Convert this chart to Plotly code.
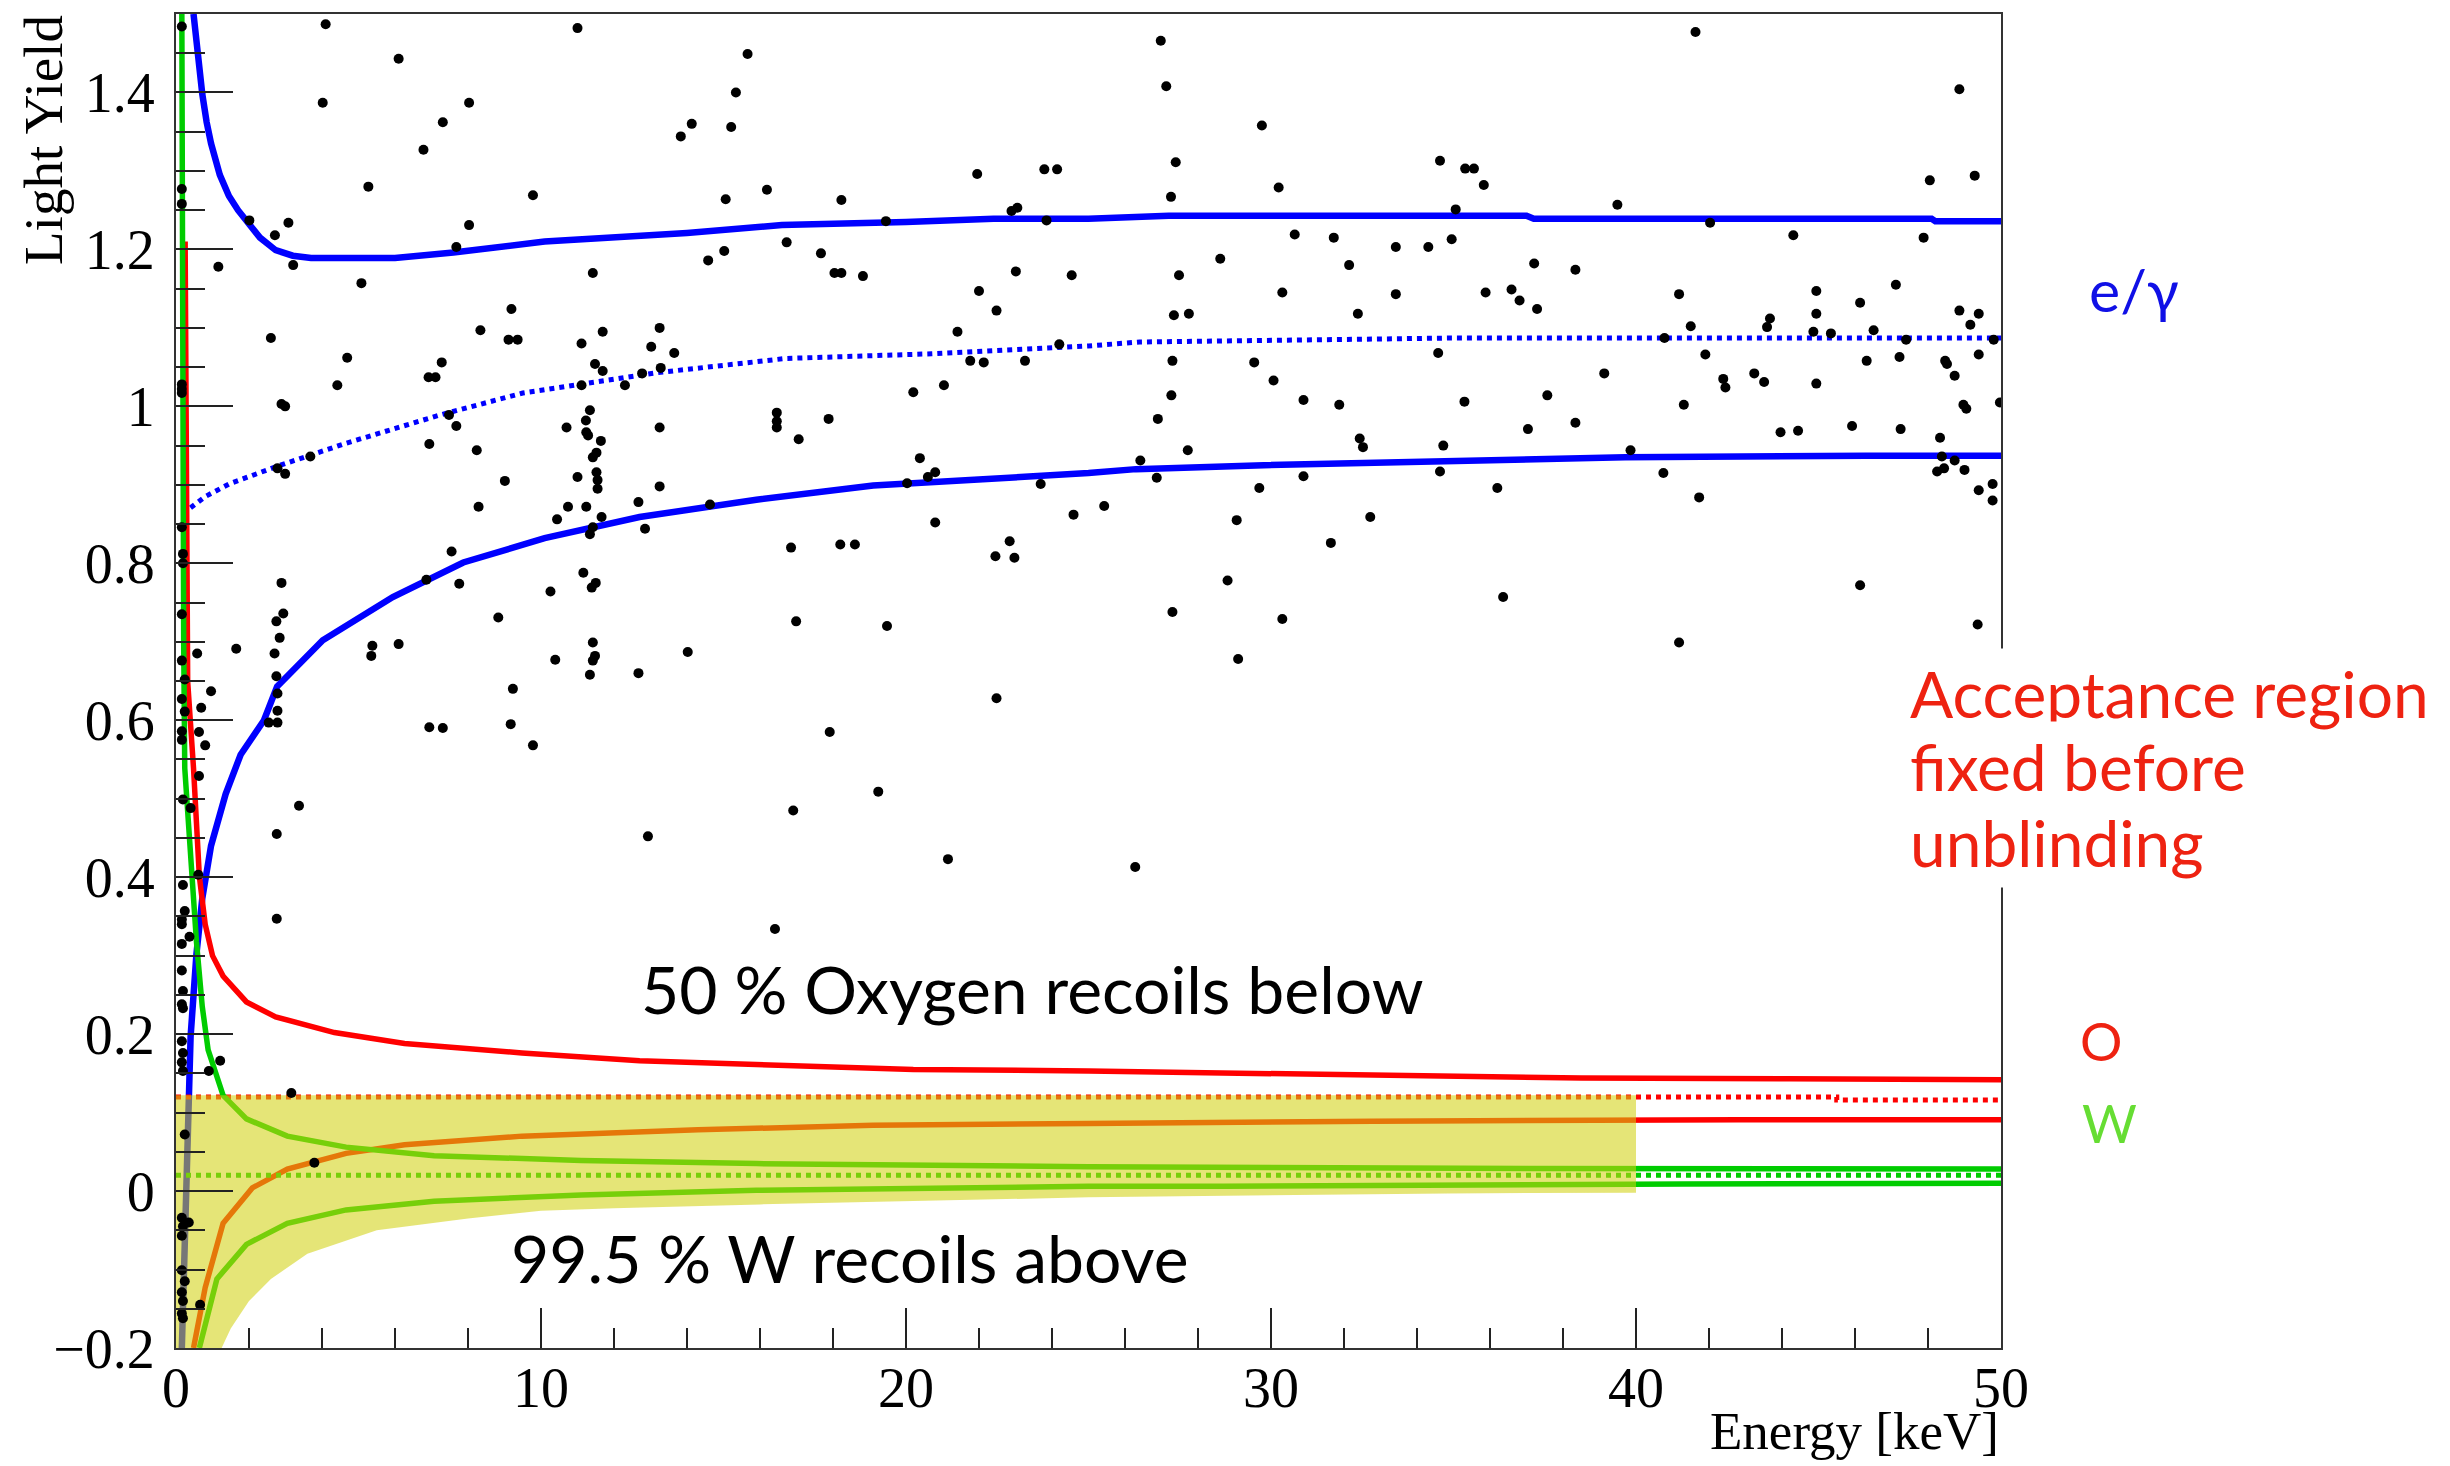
import plotly.graph_objects as go

# ---------------- data ----------------
# black event markers: energy [keV], light yield
event_energy = [
    4.10, 11.00, 15.66, 6.10, 4.02, 8.03, 15.34, 7.31, 14.13, 15.21, 13.83, 6.78, 5.27, 9.78, 16.19, 15.06,
    18.23, 21.95, 23.79, 24.14, 23.05, 22.89, 23.85, 19.45, 2.01, 3.08, 8.03, 2.71, 7.68, 16.73, 15.02, 17.67,
    14.58, 1.16, 3.21, 11.42, 18.04, 18.23, 18.82, 23.01, 24.54, 5.08, 22.00, 9.19, 22.48, 8.34, 11.69, 13.25,
    21.41, 2.60, 9.11, 9.36, 11.11, 13.02, 13.65, 4.69, 7.28, 11.48, 11.69, 13.28, 21.76, 22.13, 23.26, 24.20,
    6.92, 7.11, 4.42, 11.11, 12.30, 12.77, 21.04, 20.20, 2.89, 2.99, 7.48, 11.34, 11.23, 16.46, 16.46, 16.46,
    17.88, 7.68, 10.70, 13.25, 11.24, 11.29, 11.64, 17.06, 6.94, 8.24, 11.52, 11.42, 3.68, 2.78, 2.99, 20.38,
    20.80, 20.60, 11.00, 11.52, 11.55, 11.55, 9.01, 13.25, 20.03, 23.69, 8.29, 10.74, 11.24, 12.67, 14.63, 10.44,
    11.66, 20.80, 24.59, 11.42, 11.34, 12.85, 7.55, 16.85, 18.20, 18.60, 22.84, 22.45, 22.97, 2.89, 11.16, 6.86,
    7.76, 10.26, 11.50, 11.39, 2.94, 2.75, 8.83, 16.99, 19.48, 2.84, 1.65, 5.38, 5.35, 6.10, 11.42, 11.48,
    11.42, 2.70, 14.02, 10.39, 0.58, 11.34, 12.67, 2.75, 9.23, 0.96,
    0.16, 0.16, 0.16, 0.16, 0.16, 0.16, 0.16, 0.19, 0.19, 0.16, 0.16, 0.24,
    26.98, 27.13, 29.75, 27.39, 30.21, 27.26, 34.63, 35.32, 35.56, 35.83, 35.06, 41.63, 48.86, 48.05, 49.28, 39.49,
    42.03, 30.65, 31.72, 33.42, 34.31, 34.95, 44.31, 47.88, 28.61, 32.14, 37.21, 38.34, 27.48, 47.12, 30.31, 33.42,
    35.88, 36.59, 36.81, 37.29, 41.18, 44.94, 46.14, 27.34, 27.75, 32.38, 44.94, 48.86, 49.39, 49.16, 41.50, 43.67,
    43.59, 44.86, 45.34, 46.51, 40.78, 47.40, 49.80, 34.58, 41.90, 49.39, 27.30, 29.54, 46.32, 47.22, 48.47, 48.52,
    30.07, 39.13, 42.39, 42.45, 43.24, 43.51, 44.94, 48.73, 27.27, 30.89, 31.87, 35.30, 37.57, 41.31, 48.97, 49.05,
    49.97, 26.90, 32.43, 32.52, 37.04, 38.34, 43.96, 44.44, 45.92, 47.25, 48.33, 27.72, 34.72, 39.85, 26.42, 48.38,
    48.73, 26.87, 30.89, 34.63, 40.75, 48.25, 48.44, 49.00, 29.68, 36.20, 41.73, 49.39, 49.77, 49.77, 25.43, 29.06,
    32.72, 31.64, 28.81, 36.36, 46.14, 27.30, 30.31, 49.36, 29.10, 41.18,
    22.48, 0.69, 2.78, 2.78, 2.54, 2.78, 6.94, 7.31, 9.17, 9.78, 17.91, 0.63, 0.80, 0.63, 19.24, 3.37,
    0.40, 16.91, 2.76, 12.93, 21.15, 0.61, 2.76, 16.41, 0.37, 1.21, 0.90, 3.16, 0.24, 3.79, 0.66, 0.35,
    0.16, 0.24, 0.16, 0.16, 0.19, 0.19, 0.24, 0.16, 0.16, 0.16, 0.16, 0.19, 0.16, 0.19, 0.16, 0.19,
    0.16, 0.19, 0.16, 0.19, 0.16, 0.16, 0.24, 0.16, 0.19, 0.16, 0.19,
    26.28,
]
event_light_yield = [
    1.487, 1.482, 1.449, 1.443, 1.387, 1.387, 1.400, 1.362, 1.360, 1.356, 1.344, 1.327, 1.280, 1.269, 1.276, 1.264,
    1.263, 1.296, 1.302, 1.302, 1.253, 1.249, 1.237, 1.236, 1.237, 1.234, 1.231, 1.218, 1.203, 1.209, 1.198, 1.195,
    1.186, 1.178, 1.180, 1.170, 1.170, 1.170, 1.166, 1.172, 1.167, 1.157, 1.147, 1.124, 1.122, 1.097, 1.095, 1.100,
    1.095, 1.087, 1.085, 1.085, 1.080, 1.076, 1.068, 1.062, 1.056, 1.054, 1.045, 1.049, 1.058, 1.056, 1.058, 1.079,
    1.037, 1.037, 1.027, 1.027, 1.027, 1.042, 1.027, 1.018, 1.003, 1.000, 0.989, 0.995, 0.982, 0.992, 0.981, 0.973,
    0.984, 0.975, 0.973, 0.973, 0.967, 0.963, 0.956, 0.958, 0.952, 0.944, 0.941, 0.935, 0.936, 0.921, 0.914, 0.934,
    0.916, 0.910, 0.910, 0.916, 0.906, 0.895, 0.905, 0.898, 0.902, 0.901, 0.872, 0.872, 0.872, 0.878, 0.875, 0.856,
    0.859, 0.852, 0.862, 0.846, 0.837, 0.844, 0.815, 0.820, 0.824, 0.824, 0.828, 0.809, 0.807, 0.775, 0.788, 0.779,
    0.774, 0.764, 0.775, 0.769, 0.736, 0.726, 0.731, 0.726, 0.720, 0.705, 0.691, 0.695, 0.682, 0.697, 0.699, 0.682,
    0.676, 0.685, 0.687, 0.677, 0.685, 0.658, 0.660, 0.656, 0.640, 0.637,
    1.484, 1.277, 1.258, 1.028, 1.022, 1.017, 0.846, 0.812, 0.800, 0.735, 0.676, 0.652,
    1.466, 1.408, 1.358, 1.311, 1.279, 1.267, 1.313, 1.303, 1.303, 1.282, 1.251, 1.477, 1.404, 1.288, 1.294, 1.257,
    1.234, 1.219, 1.215, 1.203, 1.203, 1.213, 1.218, 1.215, 1.188, 1.180, 1.182, 1.174, 1.167, 1.155, 1.145, 1.143,
    1.145, 1.149, 1.135, 1.124, 1.143, 1.147, 1.132, 1.116, 1.118, 1.118, 1.118, 1.122, 1.118, 1.104, 1.102, 1.112,
    1.101, 1.095, 1.093, 1.097, 1.087, 1.085, 1.085, 1.068, 1.066, 1.066, 1.058, 1.056, 1.058, 1.063, 1.058, 1.054,
    1.033, 1.042, 1.035, 1.024, 1.042, 1.031, 1.029, 1.039, 1.014, 1.008, 1.002, 1.006, 1.014, 1.002, 1.002, 0.997,
    1.005, 0.984, 0.959, 0.948, 0.971, 0.979, 0.967, 0.969, 0.975, 0.971, 0.960, 0.944, 0.950, 0.944, 0.931, 0.936,
    0.931, 0.909, 0.911, 0.917, 0.915, 0.917, 0.921, 0.919, 0.896, 0.896, 0.884, 0.893, 0.901, 0.880, 0.873, 0.855,
    0.859, 0.826, 0.778, 0.757, 0.772, 0.738, 0.729, 0.722, 0.678, 0.699,
    0.628, 0.616, 0.612, 0.634, 0.597, 0.597, 0.591, 0.590, 0.595, 0.568, 0.585, 0.585, 0.568, 0.529, 0.509, 0.491,
    0.488, 0.485, 0.455, 0.452, 0.423, 0.403, 0.347, 0.334, 0.324, 0.166, 0.153, 0.125, 0.072, 0.036, -0.145, -0.040,
    0.627, 0.611, 0.586, 0.575, 0.499, 0.390, 0.357, 0.346, 0.340, 0.315, 0.281, 0.255, 0.238, 0.233, 0.191, 0.176,
    0.164, 0.153, -0.034, -0.045, -0.057, -0.101, -0.115, -0.129, -0.140, -0.156, -0.162,
    0.413,
]

# e/gamma band (upper, mean, lower)
eg_upper_E = [0.48, 0.60, 0.72, 0.84, 0.96, 1.2, 1.45, 1.7, 1.93, 2.3, 2.73, 3.2, 3.7, 6.0, 7.6, 10.1, 14.0, 16.6, 20.0, 22.4, 25.0, 27.2, 37.0, 37.2, 48.1, 48.2, 50]
eg_upper_LY = [1.5, 1.44, 1.398, 1.362, 1.335, 1.295, 1.268, 1.25, 1.236, 1.215, 1.199, 1.192, 1.189, 1.189, 1.196, 1.210, 1.221, 1.231, 1.235, 1.239, 1.239, 1.243, 1.243, 1.239, 1.239, 1.236, 1.236]
eg_mean_E = [0.2, 0.32, 0.8, 1.45, 2.73, 4.66, 7.23, 9.5, 13.2, 16.7, 20.7, 25.0, 26.4, 34.9, 50]
eg_mean_LY = [0.862, 0.868, 0.885, 0.901, 0.923, 0.953, 0.989, 1.017, 1.043, 1.061, 1.067, 1.077, 1.082, 1.087, 1.087]
eg_lower_E = [0.16, 0.35, 0.40, 0.56, 0.72, 0.96, 1.36, 1.77, 2.41, 2.77, 4.02, 5.94, 7.87, 10.1, 12.7, 15.9, 19.1, 25.0, 26.3, 29.8, 35.4, 39.7, 46.3, 50]
eg_lower_LY = [-0.2, 0.125, 0.197, 0.302, 0.373, 0.440, 0.506, 0.556, 0.600, 0.643, 0.702, 0.757, 0.801, 0.832, 0.859, 0.881, 0.899, 0.915, 0.920, 0.925, 0.931, 0.935, 0.937, 0.937]

# oxygen band (upper, 50 % line, lower)
o_upper_E = [0.25, 0.27, 0.30, 0.32, 0.48, 0.64, 0.80, 1.0, 1.29, 1.93, 2.73, 4.34, 6.26, 9.48, 12.7, 15.9, 20.2, 25.0, 29.1, 33.5, 38.5, 44.2, 50]
o_upper_LY = [1.21, 0.95, 0.75, 0.649, 0.539, 0.401, 0.340, 0.30, 0.274, 0.241, 0.222, 0.202, 0.188, 0.176, 0.166, 0.161, 0.155, 0.153, 0.150, 0.147, 0.144, 0.143, 0.142]
o_median_E = [0, 45.5, 50]
o_median_LY = [0.120, 0.116, 0.116]
o_lower_E = [0.48, 0.80, 1.29, 2.09, 3.05, 4.66, 6.26, 9.48, 14.3, 19.1, 25.0, 26.7, 32.8, 42.8, 50]
o_lower_LY = [-0.2, -0.123, -0.041, 0.004, 0.028, 0.048, 0.059, 0.070, 0.078, 0.084, 0.086, 0.087, 0.089, 0.091, 0.091]

# tungsten band (upper, 99.5 % line, lower)
w_upper_E = [0.16, 0.18, 0.21, 0.24, 0.40, 0.56, 0.72, 0.88, 1.29, 1.93, 3.05, 4.66, 7.07, 11.1, 15.9, 25.0, 35.2, 50]
w_upper_LY = [1.5, 1.0, 0.7, 0.539, 0.429, 0.318, 0.235, 0.180, 0.122, 0.092, 0.070, 0.056, 0.045, 0.039, 0.035, 0.031, 0.029, 0.028]
w_limit_E = [0, 50]
w_limit_LY = [0.020, 0.020]
w_lower_E = [0.64, 1.12, 1.93, 3.05, 4.66, 7.07, 11.1, 15.9, 25.0, 28.7, 41.3, 50]
w_lower_LY = [-0.2, -0.112, -0.068, -0.041, -0.024, -0.013, -0.005, 0.001, 0.006, 0.006, 0.009, 0.010]

# acceptance region (0-40 keV)
accept_top_LY = 0.122
accept_E = [0, 1.25, 1.5, 2.0, 2.6, 3.6, 5.5, 8.0, 10.0, 12.0, 16.0, 25.0, 34.8, 40.0]
accept_lower_LY = [-0.2, -0.2, -0.175, -0.14, -0.112, -0.08, -0.05, -0.035, -0.025, -0.022, -0.017, -0.008, -0.003, -0.002]

x_ticks = [0, 10, 20, 30, 40, 50]
y_ticks = [-0.2, 0, 0.2, 0.4, 0.6, 0.8, 1.0, 1.2, 1.4]

# ---------------- styling ----------------
BLUE = "#0000FF"
RED = "#FF0000"
GREEN = "#00CC00"
SERIF = "Liberation Serif"
SANS = "Lato"

W, H = 2450, 1466
ML, MR, MT, MB = 176, 449, 14, 118
PW, PH = W - ML - MR, H - MT - MB


def px(x):
    return (x - ML) / PW


def py(y):
    return (H - MB - y) / PH


fig = go.Figure()


def line(xs, ys, color, width, dash="solid", shape="linear"):
    fig.add_trace(go.Scatter(x=xs, y=ys, mode="lines", line=dict(color=color, width=width, dash=dash, shape=shape),
                             hoverinfo="skip", showlegend=False))


line(eg_upper_E, eg_upper_LY, BLUE, 6.5)
line(eg_lower_E, eg_lower_LY, BLUE, 6.5)
line(eg_mean_E, eg_mean_LY, BLUE, 5, "dot")
line(o_upper_E, o_upper_LY, RED, 5.5)
line(o_lower_E, o_lower_LY, RED, 5.5)
line(o_median_E, o_median_LY, RED, 5, "dot", "hv")
line(w_upper_E, w_upper_LY, GREEN, 5.5)
line(w_lower_E, w_lower_LY, GREEN, 5.5)
line(w_limit_E, w_limit_LY, GREEN, 5, "dot")

# acceptance region fill (drawn over the curves, like the hatched fill)
poly_x = accept_E + [accept_E[-1], accept_E[0]]
poly_y = accept_lower_LY + [accept_top_LY, accept_top_LY]
fig.add_trace(go.Scatter(x=poly_x, y=poly_y, mode="lines", fill="toself",
                         fillcolor="rgba(210,210,15,0.57)", line=dict(width=0),
                         hoverinfo="skip", showlegend=False))

fig.add_trace(go.Scatter(x=event_energy, y=event_light_yield, mode="markers",
                         marker=dict(color="black", size=10, symbol="circle", line=dict(width=0)),
                         hoverinfo="skip", showlegend=False))

axis_common = dict(showline=True, linewidth=2, linecolor="#333333", mirror=True, showgrid=False,
                   zeroline=False, ticks="inside", tickwidth=2, tickcolor="#222222",
                   tickfont=dict(family=SERIF, size=56, color="black"))

fig.update_xaxes(range=[0, 50], tickvals=x_ticks, ticklen=40, ticklabelstandoff=-10,
                 minor=dict(dtick=2, tick0=0, ticks="inside", ticklen=20, tickwidth=2, tickcolor="#222222",
                            showgrid=False),
                 **axis_common)
fig.update_yaxes(range=[-0.2, 1.5], tickvals=y_ticks, ticklen=57, ticklabelstandoff=8,
                 minor=dict(dtick=0.05, tick0=0, ticks="inside", ticklen=29, tickwidth=2, tickcolor="#222222",
                            showgrid=False),
                 **axis_common)

ann = []
ann.append(dict(text="Light Yield", x=px(44), y=py(13), xanchor="center", yanchor="top", textangle=-90,
                font=dict(family=SERIF, size=55, color="black")))
ann.append(dict(text="Energy [keV]", x=px(2001), y=py(1431), xanchor="right", yanchor="middle",
                font=dict(family=SERIF, size=53, color="black")))
ann.append(dict(text="e/γ", x=px(2134), y=py(290), xanchor="center", yanchor="middle",
                font=dict(family=SANS, size=59, color="#1010E6")))
for txt, yc in [("Acceptance region", 693), ("fixed before", 766), ("unblinding", 842)]:
    ann.append(dict(text=txt, x=px(1903), y=py(yc), xanchor="left", yanchor="middle", bgcolor="white",
                    borderpad=6, font=dict(family=SANS, size=64, color="#EE2211")))
ann.append(dict(text="O", x=px(2101), y=py(1040), xanchor="center", yanchor="middle",
                font=dict(family=SANS, size=53, color="#EE2211")))
ann.append(dict(text="W", x=px(2109), y=py(1122), xanchor="center", yanchor="middle",
                font=dict(family=SANS, size=53, color="#66DD33")))
ann.append(dict(text="50 % Oxygen recoils below", x=px(1032), y=py(988), xanchor="center", yanchor="middle",
                font=dict(family=SANS, size=66, color="black")))
ann.append(dict(text="99.5 % W recoils above", x=px(850), y=py(1257), xanchor="center", yanchor="middle",
                font=dict(family=SANS, size=66, color="black")))
for a in ann:
    a.update(xref="paper", yref="paper", showarrow=False)

fig.update_layout(width=W, height=H, margin=dict(l=ML, r=MR, t=MT, b=MB),
                  plot_bgcolor="white", paper_bgcolor="white", annotations=ann, showlegend=False)

fig.write_html("out.html")
